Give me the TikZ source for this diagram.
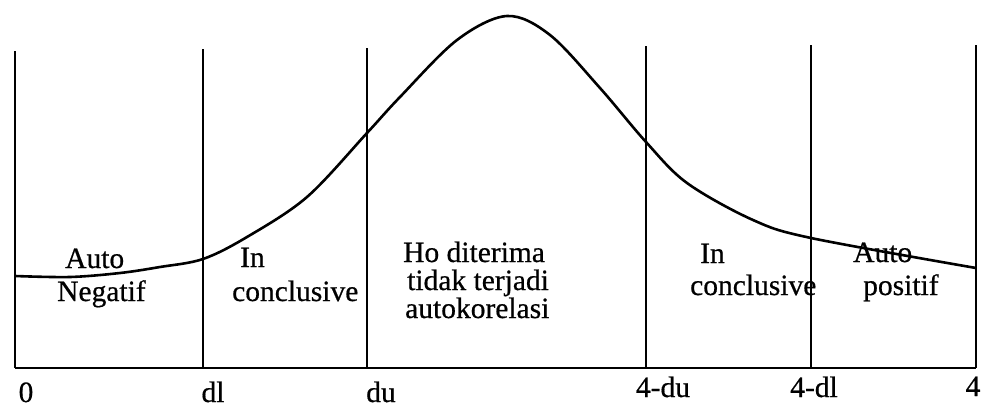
\documentclass[tikz,border=0pt]{standalone}
\usepackage{fontspec}
\setmainfont{Liberation Serif}[FakeBold=0.6]
\usepackage{tikz}
\usetikzlibrary{positioning, calc}

\begin{document}
\begin{tikzpicture}[
    x=1pt, y=-1pt,
    lbl/.style={anchor=base west, inner sep=0pt, font=\fontsize{29.5}{34}\selectfont},
    axislbl/.style={anchor=base, inner sep=0pt, font=\fontsize{29.5}{34}\selectfont},
    grid/.style={line width=1.7pt},
    curve/.style={line width=2.6pt, line join=round}
]
\useasboundingbox (0,0) rectangle (983,407);

% Garis dasar
\coordinate (base_l) at (15,368);
\coordinate (base_r) at (976,368);
\draw[grid] (base_l) -- (base_r);

% Garis batas daerah
\foreach \xp/\yt/\nm in {15/51/b0, 203/49/bdl, 367/48/bdu, 646/46/bfdu, 811/45/bfdl, 976/45/bf}{
    \coordinate (\nm_top) at (\xp,\yt);
    \coordinate (\nm_bot) at (\xp,368);
    \draw[grid] (\nm_top) -- (\nm_bot);
}

% Kurva distribusi
\draw[curve] plot[smooth, tension=0.55] coordinates {
    (15,276) (70,277) (120,273) (160,267) (203,259) (247,237) (307,197)
    (367,133) (400,97) (457,40) (507,16) (550,35) (600,88) (646,142)
    (687,183) (753,220) (811,238) (976,268)};

% Keterangan daerah
\node[lbl] (autoneg1) at (65,268) {Auto};
\node[lbl] (autoneg2) at (57,301) {Negatif};
\node[lbl] (inc1a) at (240,267) {In};
\node[lbl] (inc1b) at (232,301) {conclusive};
\node[lbl] (terima1) at (403,262) {Ho diterima};
\node[lbl] (terima2) at (407,290) {tidak terjadi};
\node[lbl] (terima3) at (405,318) {autokorelasi};
\node[lbl] (inc2a) at (700,263) {In};
\node[lbl] (inc2b) at (690,295) {conclusive};
\node[lbl] (autopos1) at (853,262) {Auto};
\node[lbl] (autopos2) at (863,295) {positif};

% Nilai batas
\node[axislbl] (v0) at (26,402) {0};
\node[axislbl] (vdl) at (213,402) {dl};
\node[axislbl] (vdu) at (381,402) {du};
\node[axislbl] (vfdu) at (663,397) {4-du};
\node[axislbl] (vfdl) at (814,397) {4-dl};
\node[axislbl] (vf) at (973,396) {4};

\end{tikzpicture}
\end{document}
